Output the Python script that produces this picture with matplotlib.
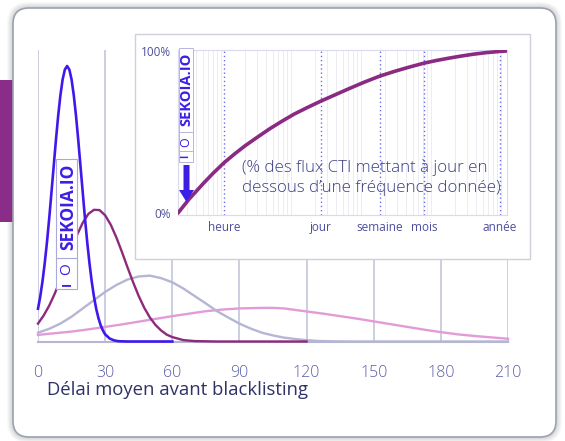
import matplotlib
matplotlib.use("Agg")
import matplotlib.pyplot as plt
from matplotlib.patches import FancyBboxPatch, Rectangle, FancyArrow

plt.rcParams['font.family'] = ['Open Sans', 'DejaVu Sans']

# ---------------- data ----------------
# main chart: distributions of average delay before blacklisting
x_ticks = [0, 30, 60, 90, 120, 150, 180, 210]
x_label = "Délai moyen avant blacklisting"

blue_x = [0, 1, 2, 3, 4, 5, 6, 7, 8, 9, 10, 11, 12, 13, 14, 15, 16, 17, 18, 19, 20,
          21, 22, 23, 24, 25, 26, 27, 28, 29, 30, 32, 34, 36, 40, 60]
blue_y = [0.119, 0.163, 0.218, 0.284, 0.360, 0.446, 0.540, 0.635, 0.730, 0.818,
          0.893, 0.951, 0.987, 1.0, 0.987, 0.951, 0.893, 0.818, 0.730, 0.635, 0.540,
          0.446, 0.360, 0.284, 0.218, 0.163, 0.119, 0.085, 0.059, 0.040, 0.026,
          0.011, 0.004, 0.001, 0.0, 0.0]

plum_x = [0, 2.5, 5, 7.5, 10, 12.5, 15, 17.5, 20, 22.5, 25, 27.5, 30, 32.5, 35, 37.5,
          40, 42.5, 45, 47.5, 50, 52.5, 55, 57.5, 60, 65, 70, 80, 120]
plum_y = [0.065, 0.094, 0.13, 0.174, 0.225, 0.280, 0.336, 0.388, 0.431, 0.463, 0.478,
          0.477, 0.458, 0.424, 0.378, 0.325, 0.269, 0.215, 0.165, 0.122, 0.087, 0.060,
          0.040, 0.025, 0.016, 0.005, 0.0015, 0.0, 0.0]

grey_x = [0, 5, 10, 15, 20, 25, 30, 35, 40, 45, 50, 55, 60, 65, 70, 75, 80, 85, 90,
          95, 100, 105, 110, 115, 120, 125, 130, 140, 210]
grey_y = [0.032, 0.046, 0.065, 0.09, 0.12, 0.15, 0.18, 0.205, 0.225, 0.236, 0.239,
          0.23, 0.215, 0.192, 0.165, 0.138, 0.11, 0.087, 0.065, 0.047, 0.032, 0.022,
          0.014, 0.009, 0.005, 0.002, 0.001, 0.0, 0.0]

pink_x = [0, 7.5, 15, 22.5, 30, 37.5, 45, 52.5, 60, 67.5, 75, 82.5, 90, 95, 100, 105,
          110, 120, 127.5, 135, 142.5, 150, 157.5, 165, 172.5, 180, 187.5, 195,
          202.5, 210]
pink_y = [0.024, 0.030, 0.036, 0.044, 0.053, 0.062, 0.072, 0.082, 0.092, 0.101,
          0.11, 0.116, 0.12, 0.121, 0.122, 0.122, 0.12, 0.109, 0.101, 0.092, 0.083,
          0.073, 0.063, 0.053, 0.043, 0.034, 0.026, 0.02, 0.015, 0.01]

# inset: % of CTI feeds updating below a given frequency (hours, log scale)
inset_hours = [0.22, 0.316, 0.5, 0.708, 1, 1.41, 2, 3.02, 4.5, 6.76, 10, 15.5, 24,
               39.8, 63, 100, 168, 282, 447, 720, 1072, 1600, 2399, 3630, 5623, 8710,
               11000]
inset_pct = [0, 8.5, 18, 24.8, 31, 36.4, 41.5, 46.9, 52, 56.7, 61, 65.1, 69, 73.2,
             77, 80.7, 84.5, 87.6, 90.1, 92.5, 94.1, 95.5, 96.8, 98, 99, 99.7, 100]
inset_tick_hours = [1, 24, 168, 720, 8760]
inset_tick_labels = ["heure", "jour", "semaine", "mois", "année"]
inset_note = "(% des flux CTI mettant à jour en\ndessous d\u2019une fréquence donnée)"

# ---------------- figure ----------------
W, H = 565, 441
fig = plt.figure(figsize=(W / 100, H / 100), dpi=100)
fig.patch.set_facecolor('white')

def px_axes(z):
    a = fig.add_axes([0, 0, 1, 1], zorder=z)
    a.set_xlim(0, W)
    a.set_ylim(H, 0)
    a.axis('off')
    a.patch.set_alpha(0)
    return a

bg = px_axes(0)
# soft shadow + card
for i, al in enumerate([0.05, 0.05, 0.05, 0.06, 0.07]):
    g = 6 - i
    bg.add_patch(FancyBboxPatch((13 - g, 8 - g), 543 + 2 * g, 429 + 2 * g,
                                boxstyle="round,pad=0,rounding_size=%d" % (16 + g),
                                facecolor='#7a7a7a', edgecolor='none', alpha=al))
bg.add_patch(Rectangle((0, 80), 14, 142, facecolor='#8a2d89', edgecolor='none'))
bg.add_patch(FancyBboxPatch((13, 8), 543, 429, boxstyle="round,pad=0,rounding_size=16",
                            facecolor='white', edgecolor='#9ba1b1', linewidth=1.2))

# ---------------- main axes ----------------
base_y, top_y = 341.5, 50
ax = fig.add_axes([38 / W, (H - base_y) / H, 470 / W, (base_y - top_y) / H], zorder=1)
ax.patch.set_alpha(0)
ax.set_xlim(0, 210)
ax.set_ylim(0, (base_y - top_y) / 275.5)
for t in x_ticks:
    ax.axvline(t, color='#c7c9df', lw=1.3, zorder=1)
for s in ['top', 'right', 'left']:
    ax.spines[s].set_visible(False)
ax.spines['bottom'].set_color('#b5b7d2')
ax.spines['bottom'].set_linewidth(1.5)
ax.set_yticks([])
ax.set_xticks(x_ticks)
ax.set_xticklabels([str(t) for t in x_ticks])
ax.tick_params(axis='x', length=0, pad=17, labelsize=11.5, labelcolor='#5a5ea8')
for lab in ax.get_xticklabels():
    lab.set_fontweight('light')

ax.plot(pink_x, pink_y, color='#e29bd8', lw=1.7, zorder=2, clip_on=False)
ax.plot(grey_x, grey_y, color='#b5b6d3', lw=1.7, zorder=3, clip_on=False)
ax.plot(plum_x, plum_y, color='#8c2a7c', lw=1.7, zorder=4, clip_on=False)
ax.plot(blue_x, blue_y, color='#4018ec', lw=1.9, zorder=5, clip_on=False)

fig.text(47 / W, 1 - 390 / H, x_label, ha='left', va='center', fontsize=13.3,
         color='#2f3266')

# ---------------- overlay: inset box + main logo ----------------
ov = px_axes(2)
ov.add_patch(Rectangle((135, 34), 395, 225, facecolor='white', edgecolor='#cfd0d8',
                       linewidth=1.0))
logo_c = '#3d1ee6'
ov.add_patch(Rectangle((56, 159), 21, 130, facecolor='white', edgecolor='#a9a9dc',
                       linewidth=0.8))
ov.plot([56, 77], [258, 258], color='#a9a9dc', lw=0.8)
ov.text(68, 207, "SEKOIA.IO", rotation=90, ha='center', va='center', fontsize=12.5,
        fontweight='bold', color=logo_c)
ov.text(67, 269, "O", rotation=90, ha='center', va='center', fontsize=11,
        color=logo_c)
ov.text(67, 284, "I", rotation=90, ha='center', va='center', fontsize=9,
        fontweight='bold', color=logo_c)

# ---------------- inset axes ----------------
in_l, in_r, in_t, in_b = 178, 507, 50, 215
axi = fig.add_axes([in_l / W, (H - in_b) / H, (in_r - in_l) / W, (in_b - in_t) / H],
                   zorder=3)
axi.set_facecolor('white')
axi.set_xscale('log')
axi.set_xlim(10 ** -0.657, 10 ** 4.043)
axi.set_ylim(-1.2, 100.6)
for s in axi.spines.values():
    s.set_color('#d9d9f0')
    s.set_linewidth(0.8)
for k in range(-1, 5):
    for m in range(2, 10):
        v = m * 10.0 ** k
        if 10 ** -0.657 < v < 10 ** 4.043:
            axi.axvline(v, color='#e9e9f0', lw=0.6, zorder=1)
for h in inset_tick_hours:
    axi.axvline(h, color='#6c6ce6', lw=1.0, ls=(0, (1, 2)), zorder=2)
axi.minorticks_off()
axi.set_xticks(inset_tick_hours)
axi.set_xticklabels(inset_tick_labels)
axi.set_yticks([0, 100])
axi.set_yticklabels(['0%', '100%'])
axi.tick_params(length=0, labelsize=8.5, labelcolor='#4d4f9c', pad=4)
axi.tick_params(axis='y', pad=5)
axi.plot(inset_hours, inset_pct, color='#8a2a82', lw=2.6, zorder=4,
         solid_capstyle='round', solid_joinstyle='round')

# ---------------- overlay: inset logo, arrow, note ----------------
ov2 = px_axes(4)
ov2.add_patch(Rectangle((179, 48), 14, 114, facecolor='white', edgecolor='#b5b5e0',
                        linewidth=0.7))
ov2.plot([179, 193], [132, 132], color='#b5b5e0', lw=0.7)
ov2.plot([179, 193], [151, 151], color='#b5b5e0', lw=0.7)
ov2.text(186, 89, "SEKOIA.IO", rotation=90, ha='center', va='center', fontsize=10.5,
         fontweight='bold', color=logo_c)
ov2.text(186, 142, "O", rotation=90, ha='center', va='center', fontsize=9,
         color=logo_c)
ov2.text(186, 156, "I", rotation=90, ha='center', va='center', fontsize=7,
         fontweight='bold', color=logo_c)
ov2.add_patch(FancyArrow(186.5, 165, 0, 37, width=6, head_width=15, head_length=12,
                         length_includes_head=True, color=logo_c, linewidth=0))
ov2.text(242, 178, inset_note, ha='left', va='center', fontsize=12.2,
         color='#3d4080', linespacing=1.35, fontweight='light')

fig.savefig('out.png', dpi=100)
